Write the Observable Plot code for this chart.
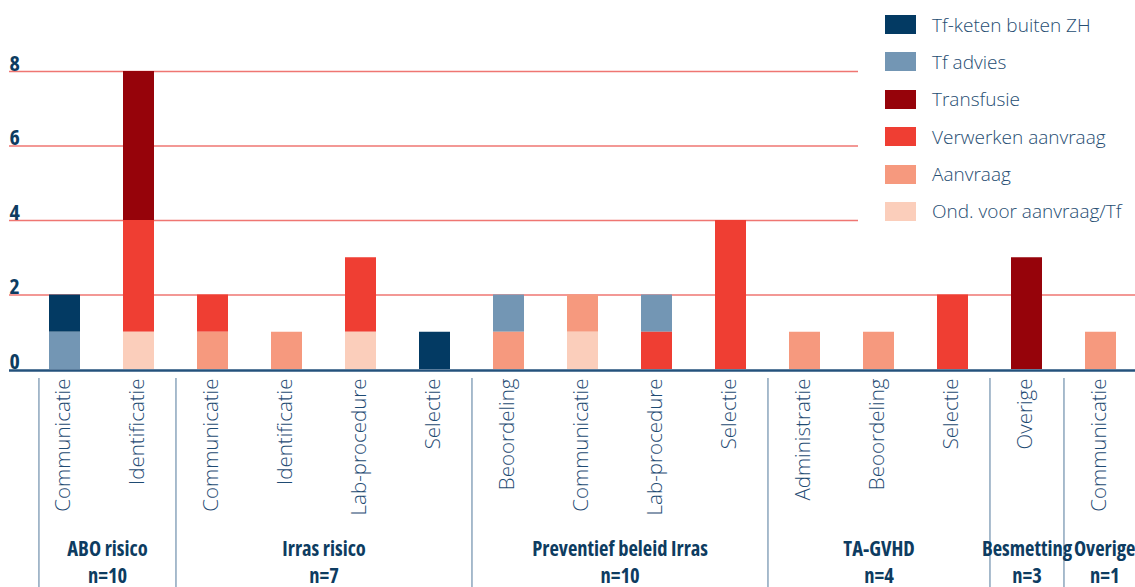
<!DOCTYPE html>
<html>
<head>
<meta charset="utf-8">
<script src="https://cdn.jsdelivr.net/npm/d3@7"></script>
<script src="https://cdn.jsdelivr.net/npm/@observablehq/plot@0.6"></script>
<style>
  body { margin: 0; background: #fff; }
  #wrap { position: relative; width: 1135px; height: 587px; overflow: hidden; }
  #legend { position: absolute; left: 885px; top: 15px; font-family: "Open Sans", sans-serif; font-weight: 350; font-size: 19px; color: #264d72; }
  #legend .row { display: flex; align-items: center; height: 19px; margin-bottom: 18.4px; white-space: nowrap; }
  #legend .sw { width: 31px; height: 19px; margin-right: 16px; flex: none; }
</style>
</head>
<body>
<div id="wrap"></div>
<script>
// Incident groups, their bars (sub-categories) and counts per cause
const groups = ["ABO risico", "Irras risico", "Preventief beleid Irras", "TA-GVHD", "Besmetting", "Overige"];
const barGroup = [0, 0, 1, 1, 1, 1, 2, 2, 2, 2, 3, 3, 3, 4, 5];
const barCategory = ["Communicatie", "Identificatie",
  "Communicatie", "Identificatie", "Lab-procedure", "Selectie",
  "Beoordeling", "Communicatie", "Lab-procedure", "Selectie",
  "Administratie", "Beoordeling", "Selectie",
  "Overige", "Communicatie"];

// Legend order (top to bottom) and colours
const seriesNames = ["Tf-keten buiten ZH", "Tf advies", "Transfusie", "Verwerken aanvraag", "Aanvraag", "Ond. voor aanvraag/Tf"];
const seriesColors = ["#033a63", "#7396b4", "#96030a", "#ef3e33", "#f6997e", "#fbcebb"];

// Counts per bar, one array per cause
const tfKeten    = [1, 0, 0, 0, 0, 1, 0, 0, 0, 0, 0, 0, 0, 0, 0];
const tfAdvies   = [1, 0, 0, 0, 0, 0, 1, 0, 1, 0, 0, 0, 0, 0, 0];
const transfusie = [0, 4, 0, 0, 0, 0, 0, 0, 0, 0, 0, 0, 0, 3, 0];
const verwerken  = [0, 3, 1, 0, 2, 0, 0, 0, 1, 4, 0, 0, 2, 0, 0];
const aanvraag   = [0, 0, 1, 1, 0, 0, 1, 1, 0, 0, 1, 1, 0, 0, 1];
const ond        = [0, 1, 0, 0, 1, 0, 0, 1, 0, 0, 0, 0, 0, 0, 0];
const seriesValues = [tfKeten, tfAdvies, transfusie, verwerken, aanvraag, ond];

const yTicks = [0, 2, 4, 6, 8];

// Tidy table for the stacked bars
const ids = barCategory.map((c, i) => `${groups[barGroup[i]]}|${c}`);
const bars = ids.map((id, i) => ({id, group: groups[barGroup[i]], category: barCategory[i]}));
const table = [];
seriesNames.forEach((s, k) => {
  seriesValues[k].forEach((v, i) => {
    if (v > 0) table.push({id: ids[i], group: groups[barGroup[i]], series: s, value: v});
  });
});

// Group totals for the "n=" labels
const groupTotals = groups.map(g => d3.sum(table.filter(d => d.group === g), d => d.value));

const xOpts = {type: "band", domain: ids, range: [27.5, 1138.5], paddingInner: 0.58, paddingOuter: 0.29};
const xs = Plot.scale({x: xOpts});
const center = id => xs.apply(id) + xs.bandwidth / 2;
const step = xs.step;
const leftGap = xs.bandwidth / 2 + 10.5;

const boldFont = "'Open Sans', sans-serif";

// Separator positions around each group; group titles centred between them
const groupFirst = groups.map((g, gi) => ids[barGroup.indexOf(gi)]);
const groupLast = groups.map((g, gi) => ids[barGroup.lastIndexOf(gi)]);
const groupMarks = groups.map((g, gi) => {
  const left = gi === 0 ? center(groupFirst[gi]) - leftGap : center(groupFirst[gi]) - step / 2;
  const right = center(groupLast[gi]) + (gi === groups.length - 1 ? step * 0.6 : step / 2);
  const mid = (left + right) / 2;
  return Plot.text([`${g}\nn=${groupTotals[gi]}`], {
    x: () => groupFirst[gi], frameAnchor: "bottom", lineAnchor: "bottom",
    dx: mid - center(groupFirst[gi]), dy: -5, lineHeight: 1.27,
    fontSize: 20.5, fontWeight: "bold", fill: "#0d3c61", fontFamily: boldFont
  });
});

const gridColor = "#ef7672";
const textBlue = "#1f4b73";

const chart = Plot.plot({
  width: 1135,
  height: 587,
  marginTop: 0,
  marginLeft: 9,
  marginRight: 0,
  marginBottom: 0,
  x: {...xOpts, axis: null},
  y: {domain: [0, 8], range: [369, 71], axis: null},
  color: {domain: seriesNames, range: seriesColors},
  style: {fontFamily: "'Open Sans', sans-serif", background: "#fff"},
  marks: [
    Plot.ruleY(yTicks.filter(t => t > 2), {stroke: gridColor, strokeWidth: 1.4, insetRight: 1135 - 858}),
    Plot.ruleY(yTicks.filter(t => t === 2), {stroke: gridColor, strokeWidth: 1.4}),
    Plot.barY(table, Plot.stackY({
      x: "id", y: "value", fill: "series",
      order: seriesNames.slice().reverse()
    })),
    Plot.ruleY([0], {stroke: "#24527c", strokeWidth: 2.6, dy: 1}),
    Plot.text(yTicks, {
      y: d => d, text: d => String(d), frameAnchor: "left", textAnchor: "start",
      lineAnchor: "bottom", dy: -1, fontSize: 22, fontWeight: "bold", fill: "#0d3c61",
      fontFamily: boldFont
    }),
    // Category labels under each bar
    Plot.text(bars, {
      x: "id", y: () => 0, text: "category", rotate: -90,
      textAnchor: "end", dy: 9, dx: -2, fontSize: 20.5, fontWeight: 360, fill: textBlue
    }),
    // Group separators
    Plot.ruleX(groupFirst.slice(1), {dx: -step / 2, insetTop: 378, stroke: "#6f8fac", strokeWidth: 1.2}),
    Plot.ruleX(groupFirst.slice(0, 1), {dx: -leftGap, insetTop: 378, stroke: "#6f8fac", strokeWidth: 1.2}),
    ...groupMarks
  ]
});

// Bold labels use the condensed width of the font
chart.querySelectorAll('[font-weight="bold"]').forEach(el => { el.style.fontStretch = "75%"; });

const wrap = document.getElementById("wrap");
wrap.appendChild(chart);

// Legend
const legend = document.createElement("div");
legend.id = "legend";
seriesNames.forEach((s, k) => {
  const row = document.createElement("div");
  row.className = "row";
  const sw = document.createElement("div");
  sw.className = "sw";
  sw.style.background = seriesColors[k];
  const label = document.createElement("span");
  label.textContent = s;
  row.appendChild(sw);
  row.appendChild(label);
  legend.appendChild(row);
});
wrap.appendChild(legend);
</script>
</body>
</html>
